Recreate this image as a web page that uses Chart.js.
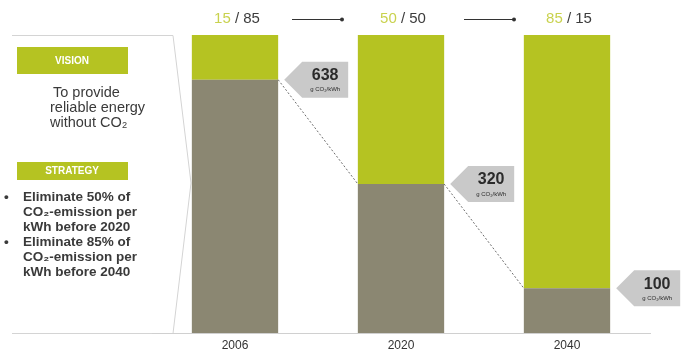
<!DOCTYPE html>
<html>
<head>
<meta charset="utf-8">
<script src="https://cdn.jsdelivr.net/npm/chart.js@4/dist/chart.umd.min.js"></script>
<style>
  html, body { margin: 0; padding: 0; background: #fff; }
  #wrap { width: 686px; height: 355px; position: relative; }
</style>
</head>
<body>
<div id="wrap"><canvas id="mixChart" width="686" height="355"></canvas></div>
<script>
const years = ['2006', '2020', '2040'];
const fossilShare = [85, 50, 15];
const greenShare = [15, 50, 85];
const emissions = [638, 320, 100];
const emissionUnit = 'g CO₂/kWh';

const GREEN = '#b5c322';
const GRAY = '#8b8772';
const FONT = '"Liberation Sans", Arial, sans-serif';

// left side panel: vision + strategy
const sidePanel = {
    id: 'sidePanel',
    beforeDraw(chart) {
        const ctx = chart.ctx;
        ctx.save();
        ctx.strokeStyle = '#d4d4d4';
        ctx.lineWidth = 1;
        ctx.beginPath();
        ctx.moveTo(12, 35.5);
        ctx.lineTo(173, 35.5);
        ctx.lineTo(191, 183);
        ctx.lineTo(173, 333.5);
        ctx.lineTo(12, 333.5);
        ctx.stroke();

        ctx.fillStyle = GREEN;
        ctx.fillRect(17, 47, 111, 27);
        ctx.fillRect(17, 162, 111, 18);

        ctx.fillStyle = '#fff';
        ctx.textAlign = 'center';
        ctx.textBaseline = 'middle';
        ctx.font = 'bold 10px ' + FONT;
        ctx.fillText('VISION', 72, 61);
        ctx.fillText('STRATEGY', 72, 171);

        ctx.fillStyle = '#3a3a3a';
        ctx.textAlign = 'left';
        ctx.font = '14.5px ' + FONT;
        ['To provide', 'reliable energy', 'without CO₂'].forEach((t, i) => {
            ctx.fillText(t, i === 0 ? 53 : 50, 93 + i * 15);
        });

        ctx.font = 'bold 13.5px ' + FONT;
        const lines = ['Eliminate 50% of', 'CO₂-emission per', 'kWh before 2020',
                       'Eliminate 85% of', 'CO₂-emission per', 'kWh before 2040'];
        lines.forEach((t, i) => {
            const y = 197 + i * 15;
            if (i % 3 === 0) ctx.fillText('•', 4, y);
            ctx.fillText(t, 23, y);
        });
        ctx.restore();
    }
};

// split labels on top, connector lines and emission callouts
const overlays = {
    id: 'overlays',
    afterDatasetsDraw(chart) {
        const ctx = chart.ctx;
        const low = chart.getDatasetMeta(0).data;
        ctx.save();

        // dashed connectors between fossil tops
        ctx.strokeStyle = '#6d6d6d';
        ctx.lineWidth = 1;
        ctx.setLineDash([2, 2]);
        for (let i = 0; i < low.length - 1; i++) {
            const a = low[i], b = low[i + 1];
            ctx.beginPath();
            ctx.moveTo(a.x + a.width / 2, a.y);
            ctx.lineTo(b.x - b.width / 2, b.y);
            ctx.stroke();
        }
        ctx.setLineDash([]);

        // top share labels
        ctx.font = '15px ' + FONT;
        ctx.textBaseline = 'middle';
        ctx.textAlign = 'left';
        low.forEach((bar, i) => {
            const g = String(greenShare[i]);
            const rest = ' / ' + fossilShare[i];
            const w = ctx.measureText(g + rest).width;
            const x0 = bar.x - w / 2 + 2;
            ctx.fillStyle = '#c9d24e';
            ctx.fillText(g, x0, 19);
            ctx.fillStyle = '#3c3c3c';
            ctx.fillText(rest, x0 + ctx.measureText(g).width, 19);
        });

        // arrows between labels
        ctx.strokeStyle = '#333';
        ctx.fillStyle = '#333';
        for (let i = 0; i < low.length - 1; i++) {
            const mid = (low[i].x + low[i + 1].x) / 2;
            const x1 = mid - 26 + i * 6;
            const x2 = mid + 24 + i * 6;
            ctx.beginPath();
            ctx.moveTo(x1, 19.5);
            ctx.lineTo(x2, 19.5);
            ctx.stroke();
            ctx.beginPath();
            ctx.arc(x2, 19.5, 2, 0, Math.PI * 2);
            ctx.fill();
        }

        // callouts
        low.forEach((bar, i) => {
            const tipX = bar.x + bar.width / 2 + 6;
            const y = bar.y;
            const w = 64, h = 36, head = 18;
            ctx.fillStyle = '#c9c9c9';
            ctx.beginPath();
            ctx.moveTo(tipX, y);
            ctx.lineTo(tipX + head, y - h / 2);
            ctx.lineTo(tipX + w, y - h / 2);
            ctx.lineTo(tipX + w, y + h / 2);
            ctx.lineTo(tipX + head, y + h / 2);
            ctx.closePath();
            ctx.fill();
            const cx = tipX + head + (w - head) / 2;
            ctx.fillStyle = '#2b2b2b';
            ctx.textAlign = 'center';
            ctx.font = 'bold 16px ' + FONT;
            ctx.fillText(String(emissions[i]), cx, y - 4);
            ctx.font = '6px ' + FONT;
            ctx.fillText(emissionUnit, cx, y + 10);
        });
        ctx.restore();
    }
};

new Chart(document.getElementById('mixChart').getContext('2d'), {
    type: 'bar',
    data: {
        labels: years,
        datasets: [
            { label: 'Fossil', data: fossilShare, backgroundColor: GRAY, barPercentage: 0.52, categoryPercentage: 1 },
            { label: 'Green', data: greenShare, backgroundColor: GREEN, barPercentage: 0.52, categoryPercentage: 1 }
        ]
    },
    options: {
        responsive: false,
        animation: false,
        layout: { padding: { left: 152, right: 36, top: 35, bottom: 0 } },
        scales: {
            x: {
                stacked: true,
                grid: { display: false, drawTicks: false },
                border: { display: true, color: '#d0d0d0' },
                ticks: { color: '#333', font: { size: 12, family: FONT }, padding: 5 },
                afterFit: (axis) => { axis.height = 22; }
            },
            y: {
                stacked: true,
                display: false,
                min: 0,
                max: 100
            }
        },
        plugins: {
            legend: { display: false },
            tooltip: { enabled: false }
        }
    },
    plugins: [sidePanel, overlays]
});
</script>
</body>
</html>
